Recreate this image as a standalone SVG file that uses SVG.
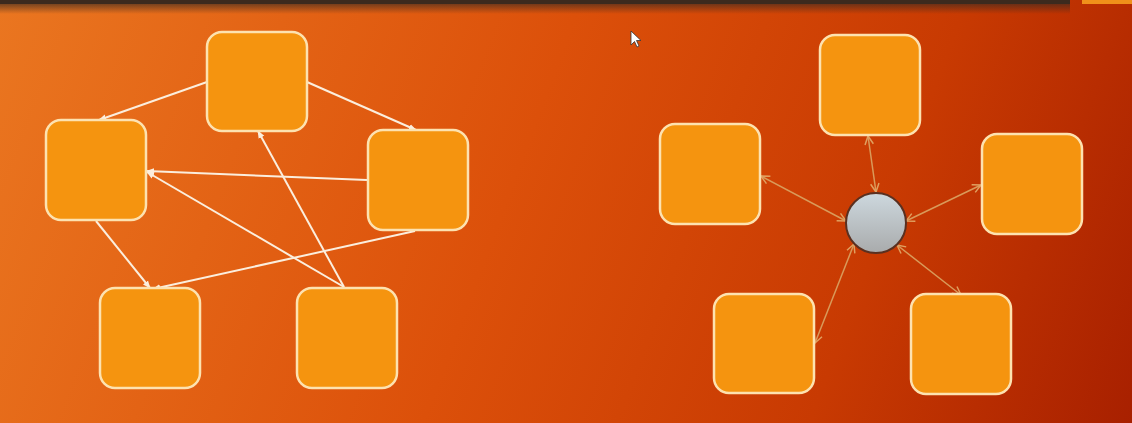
<svg xmlns="http://www.w3.org/2000/svg" width="1132" height="423" viewBox="0 0 1132 423">
<defs>
<linearGradient id="bg" x1="0" y1="0" x2="1132" y2="423" gradientUnits="userSpaceOnUse">
<stop offset="0" stop-color="#ea7620"/>
<stop offset="0.45" stop-color="#dc500a"/>
<stop offset="0.75" stop-color="#c83a02"/>
<stop offset="1" stop-color="#a82000"/>
</linearGradient>
<linearGradient id="hub" x1="0" y1="0" x2="0" y2="1">
<stop offset="0" stop-color="#cdd8de"/>
<stop offset="1" stop-color="#a9abac"/>
</linearGradient>
<linearGradient id="topshade" x1="0" y1="0" x2="0" y2="1">
<stop offset="0" stop-color="#3a2a20" stop-opacity="0.9"/>
<stop offset="1" stop-color="#3a2a20" stop-opacity="0"/>
</linearGradient>
<marker id="wa" viewBox="0 0 10 10" refX="9" refY="5" markerWidth="4" markerHeight="4" orient="auto-start-reverse">
<path d="M0,1 L10,5 L0,9 z" fill="#fbeedd"/>
</marker>
<marker id="ta" viewBox="0 0 10 10" refX="9" refY="5" markerWidth="7" markerHeight="7" orient="auto-start-reverse">
<path d="M1,1 L9,5 L1,9" fill="none" stroke="#e0a060" stroke-width="1.4"/>
</marker>
</defs>
<style>
.box{fill:#f5940f;stroke:#fde2b0;stroke-width:2.5}
.wl{stroke:#fbeedd;stroke-width:2;fill:none;marker-end:url(#wa)}
.tl{stroke:#d99a5a;stroke-width:1.5;fill:none;marker-start:url(#ta);marker-end:url(#ta)}
</style>
<rect x="0" y="0" width="1132" height="423" fill="url(#bg)"/>
<rect x="0" y="0" width="1070" height="14" fill="url(#topshade)"/>
<rect x="0" y="0" width="1070" height="4" fill="#3c2a1e"/>
<rect x="1082" y="0" width="50" height="4" fill="#f0901a"/>

<g id="connectors">
<line class="wl" x1="207" y1="82" x2="99" y2="120"/>
<line class="wl" x1="307" y1="82" x2="416" y2="130"/>
<line class="wl" x1="367" y1="180" x2="147" y2="171"/>
<line class="wl" x1="344" y1="287" x2="147" y2="172"/>
<line class="wl" x1="344" y1="287" x2="258" y2="131"/>
<line class="wl" x1="96" y1="221" x2="150" y2="288"/>
<line class="wl" x1="415" y1="231" x2="153" y2="289"/>

<line class="tl" x1="868" y1="136" x2="876" y2="192"/>
<line class="tl" x1="761" y1="176" x2="846" y2="221"/>
<line class="tl" x1="981" y1="185" x2="906" y2="221"/>
<line class="tl" x1="815" y1="343" x2="854" y2="244"/>
<line class="tl" x1="961" y1="295" x2="897" y2="245"/>
</g>

<g id="n1"><rect class="box" x="207" y="32" width="100" height="99" rx="15"/></g>
<g id="n2"><rect class="box" x="46" y="120" width="100" height="100" rx="15"/></g>
<g id="n3"><rect class="box" x="368" y="130" width="100" height="100" rx="15"/></g>
<g id="n4"><rect class="box" x="100" y="288" width="100" height="100" rx="15"/></g>
<g id="n5"><rect class="box" x="297" y="288" width="100" height="100" rx="15"/></g>

<g id="m1"><rect class="box" x="820" y="35" width="100" height="100" rx="15"/></g>
<g id="m2"><rect class="box" x="660" y="124" width="100" height="100" rx="15"/></g>
<g id="m3"><rect class="box" x="982" y="134" width="100" height="100" rx="15"/></g>
<g id="m4"><rect class="box" x="714" y="294" width="100" height="99" rx="15"/></g>
<g id="m5"><rect class="box" x="911" y="294" width="100" height="100" rx="15"/></g>
<g id="hubnode"><circle cx="876" cy="223" r="30" fill="url(#hub)" stroke="#5a3020" stroke-width="2"/></g>

<g id="cursor"><path d="M631,31 L631,45 L634.5,41.5 L637,47 L639,46 L636.5,40.5 L641,40.5 Z" fill="#ffffff" stroke="#333333" stroke-width="0.8"/></g>
</svg>
